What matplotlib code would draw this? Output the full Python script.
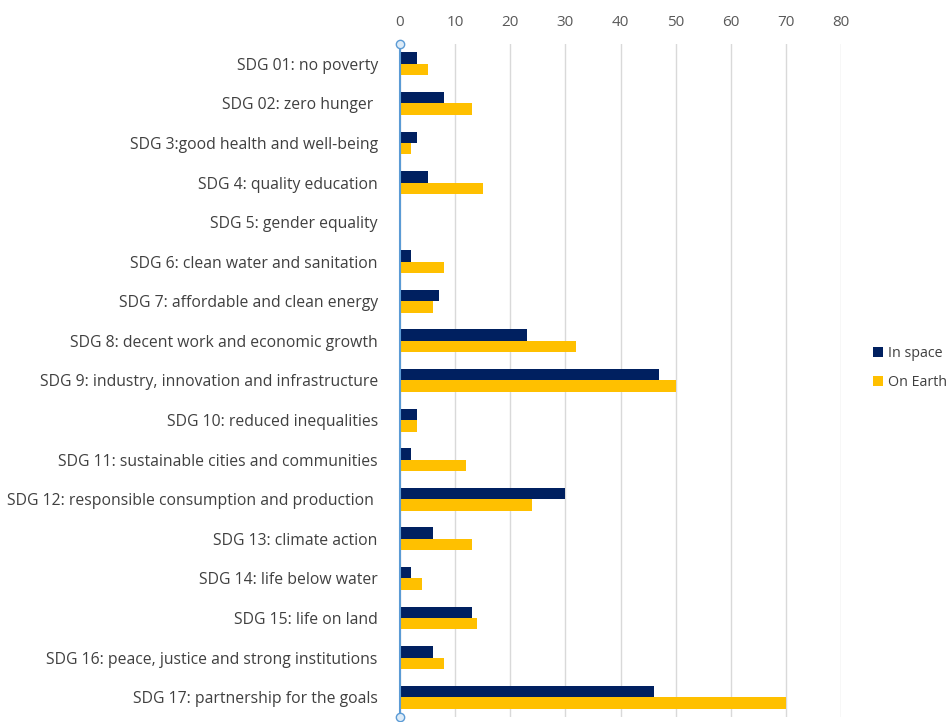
import numpy as np
import matplotlib.pyplot as plt

plt.rcParams['font.family'] = ['Open Sans', 'DejaVu Sans']

categories = [
    "SDG 01: no poverty",
    "SDG 02: zero hunger ",
    "SDG 3:good health and well-being",
    "SDG 4: quality education",
    "SDG 5: gender equality",
    "SDG 6: clean water and sanitation",
    "SDG 7: affordable and clean energy",
    "SDG 8: decent work and economic growth",
    "SDG 9: industry, innovation and infrastructure",
    "SDG 10: reduced inequalities",
    "SDG 11: sustainable cities and communities",
    "SDG 12: responsible consumption and production ",
    "SDG 13: climate action",
    "SDG 14: life below water",
    "SDG 15: life on land",
    "SDG 16: peace, justice and strong institutions",
    "SDG 17: partnership for the goals",
]
in_space = [3, 8, 3, 5, 0, 2, 7, 23, 47, 3, 2, 30, 6, 2, 13, 6, 46]
on_earth = [5, 13, 2, 15, 0, 8, 6, 32, 50, 3, 12, 24, 13, 4, 14, 8, 70]
x_ticks = [0, 10, 20, 30, 40, 50, 60, 70, 80]

navy = '#002060'
gold = '#FFC000'
axis_blue = '#5B9BD5'

fig = plt.figure(figsize=(9.51, 7.22), dpi=100)
ax = fig.add_axes([0.4206, 0.007, 0.464, 0.932])

y = np.arange(len(categories))
h = 0.29
ax.barh(y - h / 2, in_space, height=h, color=navy, label='In space', zorder=3)
ax.barh(y + h / 2, on_earth, height=h, color=gold, label='On Earth', zorder=3)

ax.set_ylim(len(categories) - 0.5, -0.5)
ax.set_xlim(0, 80)
ax.set_xticks(x_ticks)
ax.set_yticks(y)
ax.set_yticklabels(categories, fontsize=11.3, color='#404040')
ax.xaxis.tick_top()
ax.tick_params(axis='x', length=0, labelsize=11, labelcolor='#595959', pad=10)
ax.tick_params(axis='y', length=0, pad=16)

ax.grid(axis='x', color='#D9D9D9', linewidth=1, zorder=0)
for s in ax.spines.values():
    s.set_visible(False)

# vertical axis line with round end markers
ax.plot([0, 0], [-0.5, len(categories) - 0.5], color=axis_blue, linewidth=1.5,
        marker='o', markersize=6, markerfacecolor='#DDEBF7', markeredgecolor=axis_blue,
        clip_on=False, zorder=4)

fig.legend(loc='center left', bbox_to_anchor=(0.918, 0.49), frameon=False,
           borderpad=0, borderaxespad=0,
           fontsize=10.3, handlelength=0.7, handleheight=0.7, handletextpad=0.35,
           labelspacing=1.0, labelcolor='#404040')

fig.savefig('out.png', dpi=100)
